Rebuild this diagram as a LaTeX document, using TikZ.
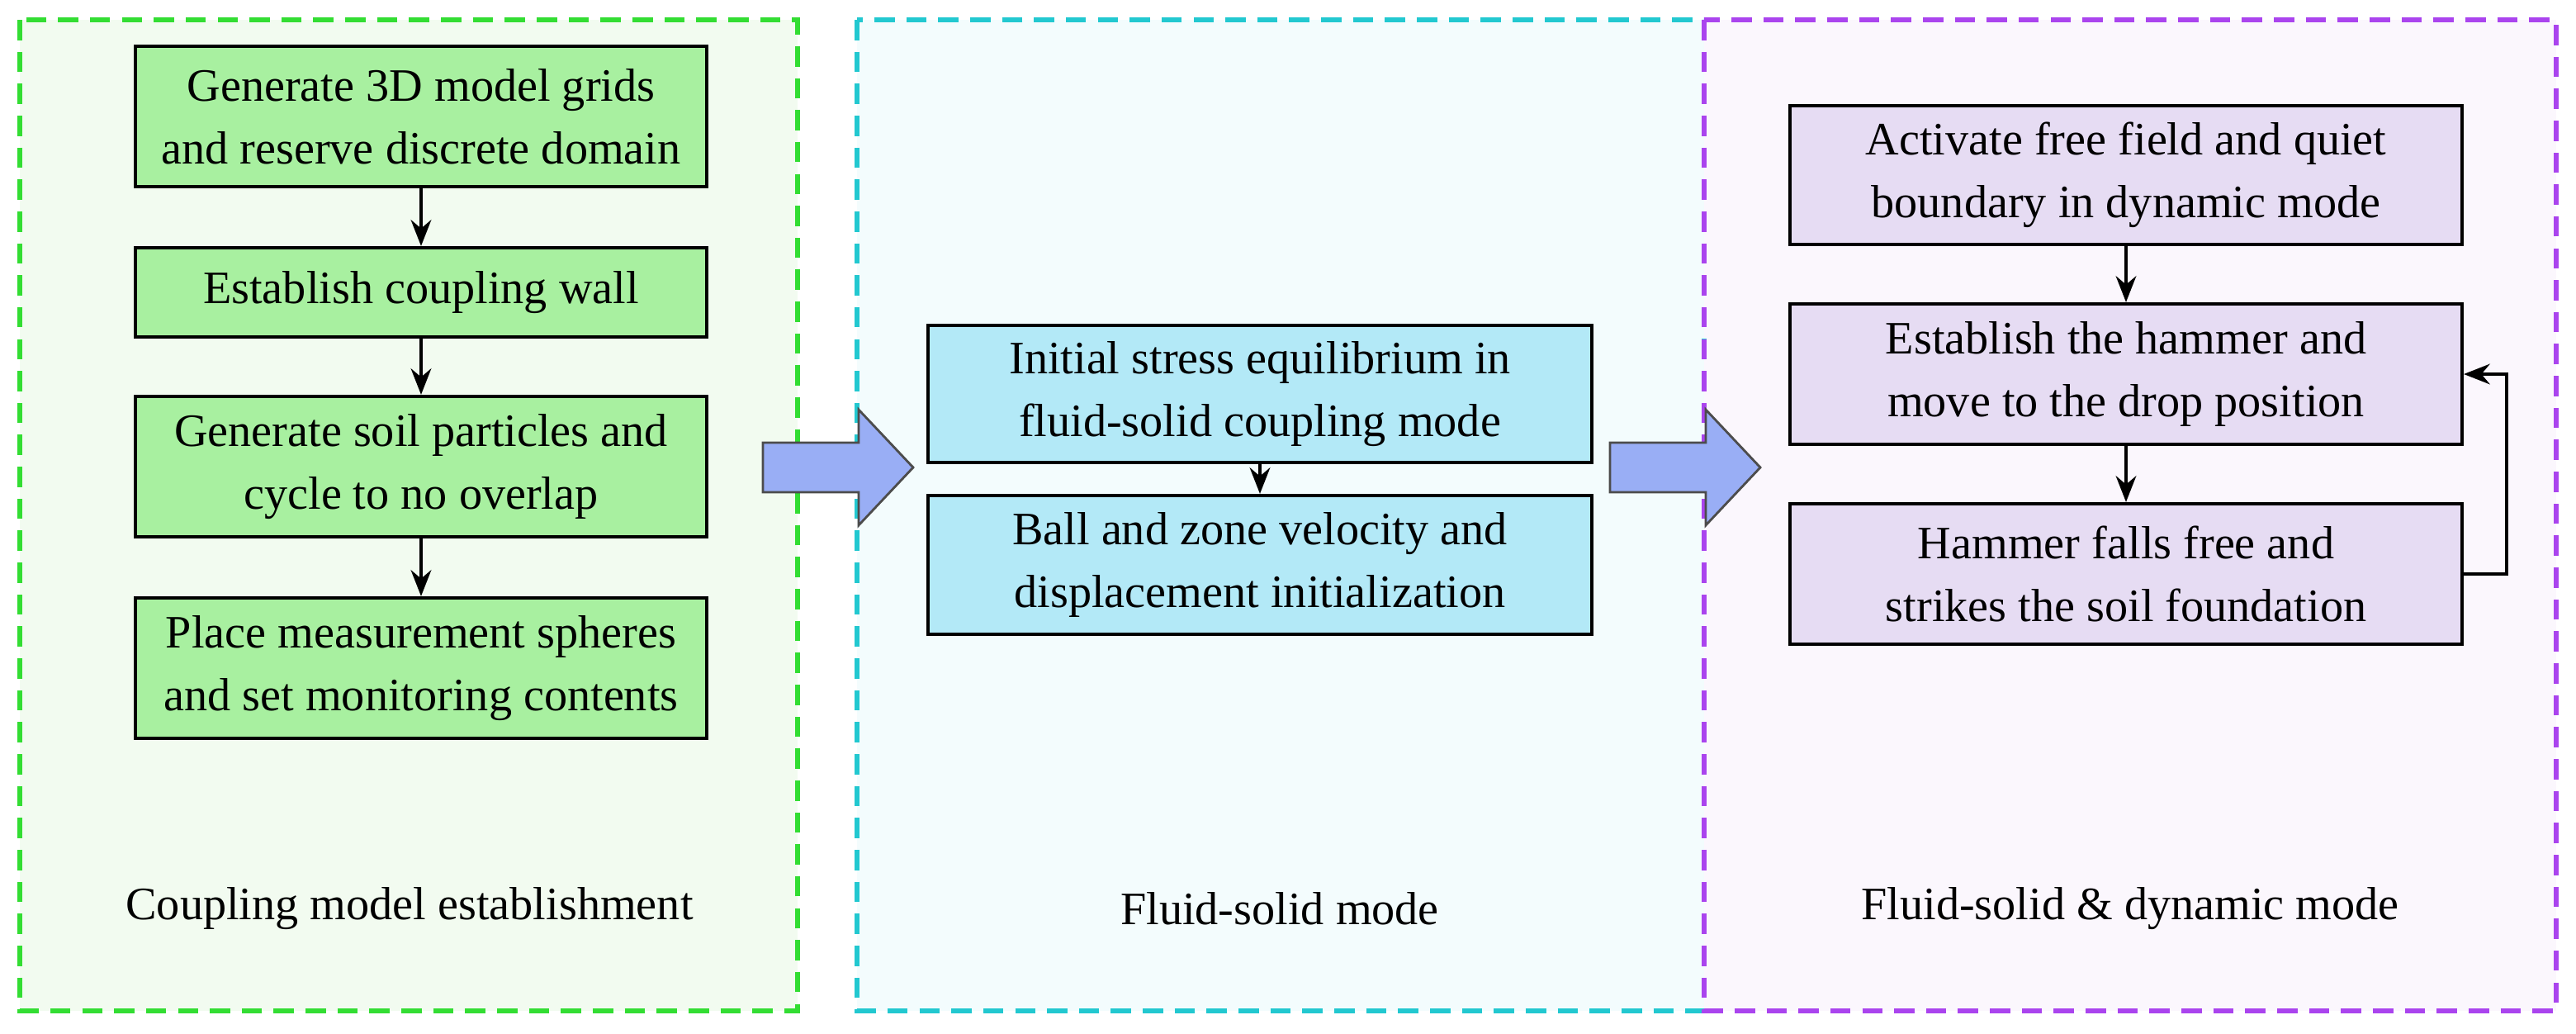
\documentclass[tikz,border=0pt]{standalone}
\usepackage{fontspec}
\setmainfont{Liberation Serif}
\usetikzlibrary{arrows.meta}
\definecolor{gbox}{HTML}{A8F0A0}
\definecolor{bbox}{HTML}{B3E9F7}
\definecolor{pbox}{HTML}{E6DCF3}
\definecolor{gbg}{HTML}{F2FBF0}
\definecolor{bbg}{HTML}{F3FCFD}
\definecolor{pbg}{HTML}{FBF7FD}
\definecolor{gdash}{HTML}{33DD33}
\definecolor{bdash}{HTML}{22C8D0}
\definecolor{pdash}{HTML}{AA44EE}
\definecolor{bigarrow}{HTML}{99AEF5}
\begin{document}
\begin{tikzpicture}[x=0.02cm,y=-0.02cm,
  box/.style={draw=black,line width=1.2pt,align=center,font=\fontsize{16}{21.5}\selectfont,inner sep=0pt},
  panel/.style={dashed,line width=1.5pt,dash pattern=on 7pt off 4pt},
  lab/.style={font=\fontsize{16}{20}\selectfont},
  arr/.style={-{Stealth[length=9pt,width=7pt]},line width=1.2pt},
  big/.style={draw=black!70,fill=bigarrow,line width=0.8pt,line join=miter}]
\useasboundingbox (0,0) rectangle (1560,626);
\fill[gbg] (12,12) rectangle (483,612);
\fill[bbg] (519,12) rectangle (1032,612);
\fill[pbg] (1032,12) rectangle (1548,612);
\draw[panel,gdash] (12,12) rectangle (483,612);
\draw[panel,bdash] (519,12) rectangle (1032,612);
\draw[panel,pdash] (1032,12) rectangle (1548,612);
% green
\node[box,fill=gbox,minimum width=6.92cm,minimum height=1.7cm] (g1) at (255,70.5) {Generate 3D model grids\\and reserve discrete domain};
\node[box,fill=gbox,minimum width=6.92cm,minimum height=1.08cm] (g2) at (255,177) {Establish coupling wall};
\node[box,fill=gbox,minimum width=6.92cm,minimum height=1.7cm] (g3) at (255,282.5) {Generate soil particles and\\cycle to no overlap};
\node[box,fill=gbox,minimum width=6.92cm,minimum height=1.7cm] (g4) at (255,404.5) {Place measurement spheres\\and set monitoring contents};
\draw[arr] (g1) -- (g2);
\draw[arr] (g2) -- (g3);
\draw[arr] (g3) -- (g4);
\node[lab] (l1) at (248,550) {Coupling model establishment};
% blue
\node[box,fill=bbox,minimum width=8.04cm,minimum height=1.66cm] (b1) at (763,238.5) {Initial stress equilibrium in\\fluid-solid coupling mode};
\node[box,fill=bbox,minimum width=8.04cm,minimum height=1.68cm] (b2) at (763,342) {Ball and zone velocity and\\displacement initialization};
\draw[arr] (b1) -- (b2);
\node[lab] (l2) at (775,550) {Fluid-solid mode};
% purple
\node[box,fill=pbox,minimum width=8.14cm,minimum height=1.68cm] (p1) at (1287.5,106) {Activate free field and quiet\\boundary in dynamic mode};
\node[box,fill=pbox,minimum width=8.14cm,minimum height=1.7cm] (p2) at (1287.5,226.5) {Establish the hammer and\\move to the drop position};
\node[box,fill=pbox,minimum width=8.14cm,minimum height=1.7cm] (p3) at (1287.5,347.5) {Hammer falls free and\\strikes the soil foundation};
\draw[arr] (p1) -- (p2);
\draw[arr] (p2) -- (p3);
\coordinate (c1) at (1518,347.5);
\coordinate (c2) at (1518,226.5);
\draw[arr] (p3.east) -- (c1) -- (c2) -- (p2.east);
\node[lab] (l3) at (1290,550) {Fluid-solid \& dynamic mode};
% big arrows
\foreach \dx in {0,513}{
  \draw[big,xshift=\dx*0.02cm] (462,268) -- (520,268) -- (520,248) -- (553,283) -- (520,318) -- (520,298) -- (462,298) -- cycle;
}
\end{tikzpicture}
\end{document}
